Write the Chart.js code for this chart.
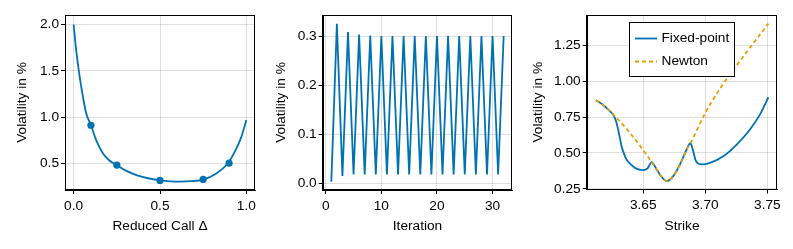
<!DOCTYPE html>
<html>
<head>
<meta charset="utf-8">
<script src="https://cdn.jsdelivr.net/npm/chart.js@4/dist/chart.umd.min.js"></script>
<style>
  html, body { margin: 0; padding: 0; background: #fff; }
  #wrap { position: relative; width: 793px; height: 249px; }
  #wrap canvas { position: absolute; left: 0; top: 0; }
</style>
</head>
<body>
<div id="wrap">
  <canvas id="c1" width="793" height="249"></canvas>
  <canvas id="c2" width="793" height="249"></canvas>
  <canvas id="c3" width="793" height="249"></canvas>
</div>
<script>
// ---------- Panel 1: smile in reduced call delta ----------
const deltaCurve = [0.000, 0.015, 0.035, 0.054, 0.073, 0.100, 0.131, 0.170, 0.205, 0.250, 0.300, 0.363, 0.430, 0.500, 0.560, 0.620, 0.680, 0.750, 0.826, 0.894, 0.942, 0.971, 1.000];
const volCurve   = [2.000, 1.720, 1.435, 1.220, 1.040, 0.915, 0.750, 0.608, 0.535, 0.482, 0.425, 0.374, 0.340, 0.318, 0.307, 0.303, 0.308, 0.326, 0.392, 0.505, 0.660, 0.787, 0.970];
const deltaPoints = [0.10, 0.25, 0.50, 0.75, 0.90];
const volPoints   = [0.913, 0.482, 0.317, 0.327, 0.503];
const p1XTicks = [0.0, 0.5, 1.0];
const p1YTicks = [0.5, 1.0, 1.5, 2.0];

// ---------- Panel 2: fixed-point iterations ----------
const iterations = [1,2,3,4,5,6,7,8,9,10,11,12,13,14,15,16,17,18,19,20,21,22,23,24,25,26,27,28,29,30,31,32];
const iterVol = [0.003,0.326,0.015,0.309,0.018,0.304,0.018,0.302,0.018,0.301,0.018,0.301,0.018,0.301,0.018,0.301,
                 0.018,0.301,0.018,0.301,0.018,0.301,0.018,0.301,0.018,0.301,0.018,0.301,0.018,0.301,0.018,0.301];
const p2XTicks = [0, 10, 20, 30];
const p2YTicks = [0.0, 0.1, 0.2, 0.3];

// ---------- Panel 3: strike smile, fixed-point vs Newton ----------
const strikeFixed = [3.6119,3.6180,3.6231,3.6260,3.6282,3.6298,3.6312,3.6326,3.6345,3.6366,3.6400,3.6433,3.6470,3.6500,3.6535,3.6568,
                     3.6608,3.6648,3.6689,3.6742,3.6796,3.6850,3.6880,3.6903,3.6925,3.6971,3.7038,3.7145,3.7253,3.7360,3.7441,3.7508];
const volFixed    = [0.868,0.833,0.792,0.765,0.720,0.664,0.605,0.547,0.495,0.454,0.420,0.397,0.383,0.380,0.392,0.436,
                     0.385,0.334,0.303,0.338,0.420,0.524,0.568,0.512,0.443,0.420,0.431,0.477,0.559,0.664,0.769,0.889];
const strikeNewton = [3.6119,3.6180,3.6231,3.6266,3.6379,3.6500,3.6568,3.6608,3.6648,3.6689,3.6742,3.6796,3.6850,3.6880,3.7000,3.7119,3.7226,3.7508];
const volNewton    = [0.868,0.833,0.792,0.762,0.655,0.520,0.436,0.385,0.334,0.303,0.338,0.420,0.524,0.568,0.780,0.950,1.080,1.403];
const p3XTicks = [3.65, 3.70, 3.75];
const p3YTicks = [0.25, 0.50, 0.75, 1.00, 1.25];

const BLUE = '#0072B2';
const ORANGE = '#E69F00';
const FONT = '"Liberation Sans", Arial, Helvetica, sans-serif';
const FS = 13.7;

Chart.defaults.font.family = FONT;
Chart.defaults.font.size = FS;
Chart.defaults.color = '#000';

const pts = (xs, ys) => xs.map((x, i) => ({x: x, y: ys[i]}));

const framePlugin = {
  id: 'frame',
  afterDraw(chart) {
    const {ctx, chartArea: a} = chart;
    ctx.save();
    ctx.strokeStyle = '#000';
    ctx.lineWidth = 1;
    const l = Math.round(a.left) + 0.5, r = Math.round(a.right) - 0.5;
    const t = Math.round(a.top) + 0.5, b = Math.round(a.bottom) - 0.5;
    ctx.strokeRect(l, t, r - l, b - t);
    ctx.restore();
  }
};

function axis(min, max, ticks, decimals, title, yW, xH, isY) {
  return {
    type: 'linear',
    min: min, max: max,
    afterBuildTicks: (s) => { s.ticks = ticks.map(v => ({value: v})); },
    afterFit: (s) => { if (isY) s.width = yW; else s.height = xH; },
    ticks: {
      autoSkip: false, maxRotation: 0,
      padding: isY ? 2 : 4,
      color: '#000',
      font: {size: FS, family: FONT},
      callback: (v) => Number(v).toFixed(decimals)
    },
    grid: {
      color: 'rgba(0,0,0,0.12)', lineWidth: 1,
      drawTicks: true, tickLength: 4, tickColor: '#000', tickWidth: 1
    },
    border: {display: true, color: '#000', width: 1},
    title: {display: true, text: title, color: '#000', padding: 0, font: {size: FS, family: FONT}}
  };
}

function makeChart(id, datasets, sc, pad, extraPlugins) {
  return new Chart(document.getElementById(id), {
    type: 'scatter',
    data: {datasets: datasets},
    options: {
      responsive: false, animation: false, devicePixelRatio: 1,
      layout: {padding: pad},
      plugins: {legend: {display: false}, tooltip: {enabled: false}},
      scales: sc
    },
    plugins: [framePlugin].concat(extraPlugins || [])
  });
}

// Panel 1
makeChart('c1', [
  {label: 'points', data: pts(deltaPoints, volPoints), showLine: false, pointRadius: 3.6,
   pointBackgroundColor: BLUE, pointBorderColor: BLUE, pointBorderWidth: 0, order: 0},
  {label: 'smile', data: pts(deltaCurve, volCurve), showLine: true, pointRadius: 0,
   borderColor: BLUE, borderWidth: 1.8, cubicInterpolationMode: 'monotone', order: 1}
], {
  x: axis(-0.05, 1.05, p1XTicks, 1, 'Reduced Call Δ', 0, 44.4, false),
  y: axis(0.213, 2.105, p1YTicks, 1, 'Volatility in %', 50.7, 0, true)
}, {left: 14.3, right: 538, top: 15, bottom: 14.6});

// Panel 2
makeChart('c2', [
  {label: 'iter', data: pts(iterations, iterVol), showLine: true, pointRadius: 0,
   borderColor: BLUE, borderWidth: 1.8, tension: 0}
], {
  x: axis(-0.55, 33.55, p2XTicks, 0, 'Iteration', 0, 44.4, false),
  y: axis(-0.0137, 0.344, p2YTicks, 1, 'Volatility in %', 49.9, 0, true)
}, {left: 272.8, right: 280.7, top: 15, bottom: 14.6});

// Panel 3 legend
const legendPlugin = {
  id: 'boxLegend',
  afterDraw(chart) {
    const {ctx} = chart;
    const ds = chart.data.datasets;
    ctx.save();
    ctx.fillStyle = '#fff';
    ctx.fillRect(629.5, 22.5, 105, 54);
    ctx.strokeStyle = '#000';
    ctx.lineWidth = 1;
    ctx.strokeRect(629.5, 22.5, 105, 54);
    const rows = [38.5, 61.5];
    ds.forEach((d, i) => {
      ctx.strokeStyle = d.borderColor;
      ctx.lineWidth = d.borderWidth;
      ctx.setLineDash(d.borderDash || []);
      ctx.beginPath();
      ctx.moveTo(635, rows[i]);
      ctx.lineTo(657, rows[i]);
      ctx.stroke();
      ctx.setLineDash([]);
      ctx.fillStyle = '#000';
      ctx.font = FS + 'px ' + FONT;
      ctx.textBaseline = 'middle';
      ctx.textAlign = 'left';
      ctx.fillText(d.label, 661.5, rows[i]);
    });
    ctx.restore();
  }
};

makeChart('c3', [
  {label: 'Fixed-point', data: pts(strikeFixed, volFixed), showLine: true, pointRadius: 0,
   borderColor: BLUE, borderWidth: 1.8, cubicInterpolationMode: 'monotone', order: 1},
  {label: 'Newton', data: pts(strikeNewton, volNewton), showLine: true, pointRadius: 0,
   borderColor: ORANGE, borderWidth: 1.8, borderDash: [4, 3], cubicInterpolationMode: 'monotone', order: 0}
], {
  x: axis(3.6045, 3.758, p3XTicks, 2, 'Strike', 0, 44.9, false),
  y: axis(0.245, 1.463, p3YTicks, 2, 'Volatility in %', 57.1, 0, true)
}, {left: 529.6, right: 15.7, top: 15, bottom: 14.6}, [legendPlugin]);
</script>
</body>
</html>
